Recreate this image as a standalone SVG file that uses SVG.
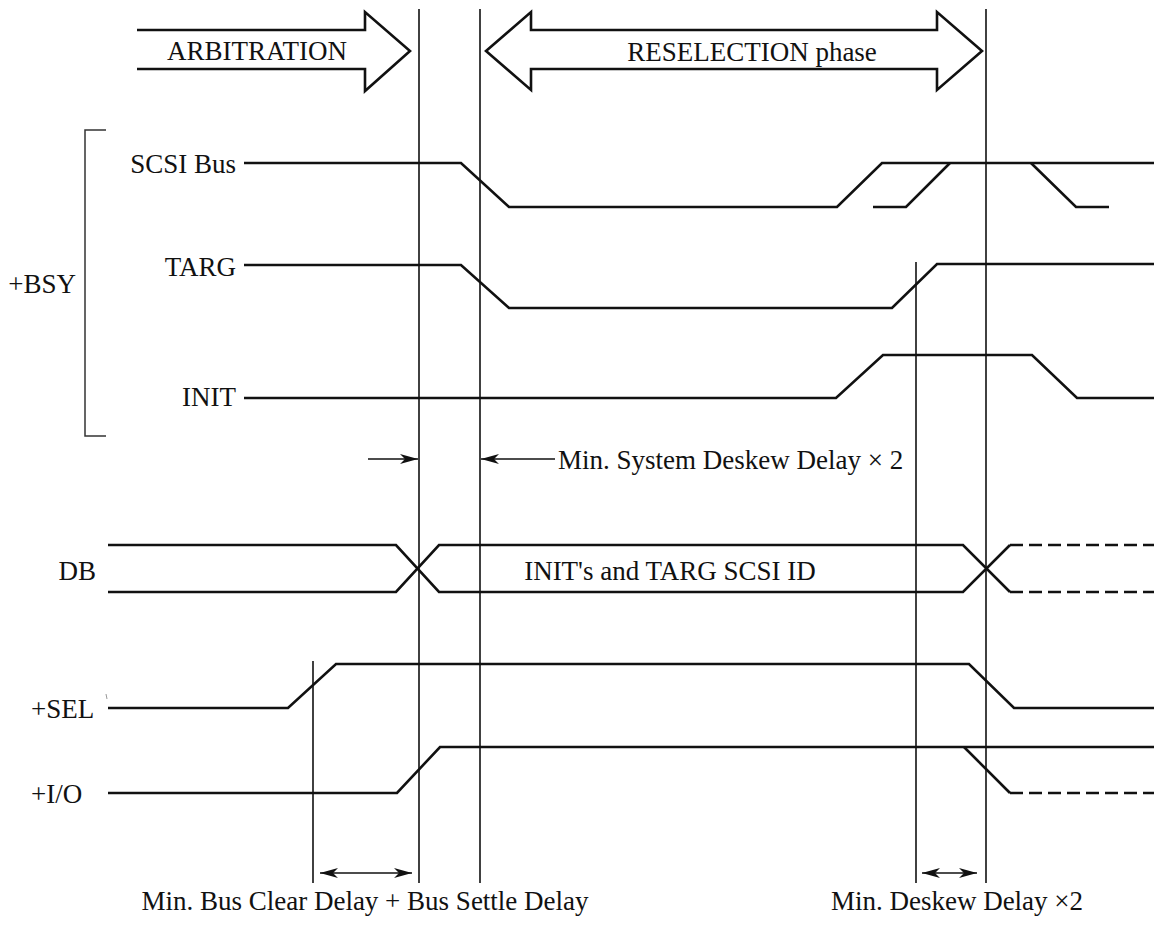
<svg xmlns="http://www.w3.org/2000/svg" width="1154" height="932" viewBox="0 0 1154 932">
<style>
text{font-family:"Liberation Serif","Times New Roman",serif;font-size:27px;fill:#111}
.sig{fill:none;stroke:#111;stroke-width:2.6;stroke-linejoin:miter}
.dash{fill:none;stroke:#111;stroke-width:2.6;stroke-dasharray:13 6}
.vl{fill:none;stroke:#111;stroke-width:1.6}
.phase{fill:#fff;stroke:#111;stroke-width:2.6;stroke-linejoin:miter}
.dim{fill:none;stroke:#111;stroke-width:1.6}
</style>
<defs>
<marker id="ah" markerWidth="20" markerHeight="12" refX="18" refY="6" orient="auto-start-reverse" markerUnits="userSpaceOnUse">
<path d="M0,1 L18,6 L0,11 L5,6 z" fill="#111"/>
</marker>
</defs>
<g id="phase-arbitration">
<path class="phase" d="M137,30 H365 V12 L410,51 L365,91 V69 H137"/>
<text x="257" y="60" text-anchor="middle" font-size="27.5">ARBITRATION</text>
</g>
<g id="phase-reselection">
<path class="phase" d="M486,51 L531,12 V30 H937 V12 L982,51 L937,90 V69 H531 V90 Z"/>
<text x="752" y="61" text-anchor="middle" font-size="27.5">RESELECTION phase</text>
</g>
<g id="timing-lines">
<line class="vl" x1="419" y1="9" x2="419" y2="883"/>
<line class="vl" x1="480" y1="9" x2="480" y2="883"/>
<line class="vl" x1="986" y1="9" x2="986" y2="883"/>
<line class="vl" x1="916" y1="262" x2="916" y2="883"/>
<line class="vl" x1="313" y1="661" x2="313" y2="883"/>
</g>
<g id="bsy-group">
<path d="M106,130 H85 V436 H106" fill="none" stroke="#333" stroke-width="1.5"/>
<text x="76" y="293" text-anchor="end">+BSY</text>
</g>
<g id="sig-scsibus">
<text x="236" y="173" text-anchor="end">SCSI Bus</text>
<path class="sig" d="M244,163 H461 L509,207 H837 L882,163 H1154"/>
<path class="sig" d="M873,207 H906 L950,163"/>
<path class="sig" d="M1031,163 L1076,207 H1109"/>
</g>
<g id="sig-targ">
<text x="236" y="276" text-anchor="end">TARG</text>
<path class="sig" d="M244,265 H461 L509,308 H892 L937,264 H1154"/>
</g>
<g id="sig-init">
<text x="236" y="406" text-anchor="end">INIT</text>
<path class="sig" d="M244,398 H836 L883,355 H1032 L1077,398 H1154"/>
</g>
<g id="sig-db">
<text x="96" y="580" text-anchor="end">DB</text>
<path class="sig" d="M108,545 H396 L439,592 H963 L1010,545"/>
<path class="sig" d="M108,592 H396 L439,545 H963 L1010,592"/>
<path class="dash" d="M1010,545 H1154"/>
<path class="dash" d="M1010,592 H1154"/>
<text x="670" y="580" text-anchor="middle">INIT's and TARG SCSI ID</text>
</g>
<g id="sig-sel">
<text x="31" y="718">+SEL</text>
<line x1="106" y1="694" x2="107" y2="699" stroke="#999" stroke-width="1"/>
<path class="sig" d="M108,708 H288 L336,664 H969 L1014,708 H1154"/>
</g>
<g id="sig-io">
<text x="31" y="803">+I/O</text>
<path class="sig" d="M108,793 H397 L440,747 H1154"/>
<path class="sig" d="M964,747 L1010,793"/>
<path class="dash" d="M1010,793 H1154"/>
</g>
<g id="connectors">
<line class="dim" x1="368" y1="459" x2="418" y2="459" marker-end="url(#ah)"/>
<line class="dim" x1="555" y1="459" x2="481" y2="459" marker-end="url(#ah)"/>
<line class="dim" x1="320" y1="873" x2="412" y2="873" marker-start="url(#ah)" marker-end="url(#ah)"/>
<line class="dim" x1="922" y1="873" x2="977" y2="873" marker-start="url(#ah)" marker-end="url(#ah)"/>
</g>
<g id="labels">
<text x="558" y="469">Min. System Deskew Delay × 2</text>
<text x="365" y="910" text-anchor="middle" font-size="26">Min. Bus Clear Delay + Bus Settle Delay</text>
<text x="957" y="910" text-anchor="middle">Min. Deskew Delay ×2</text>
</g>
</svg>
